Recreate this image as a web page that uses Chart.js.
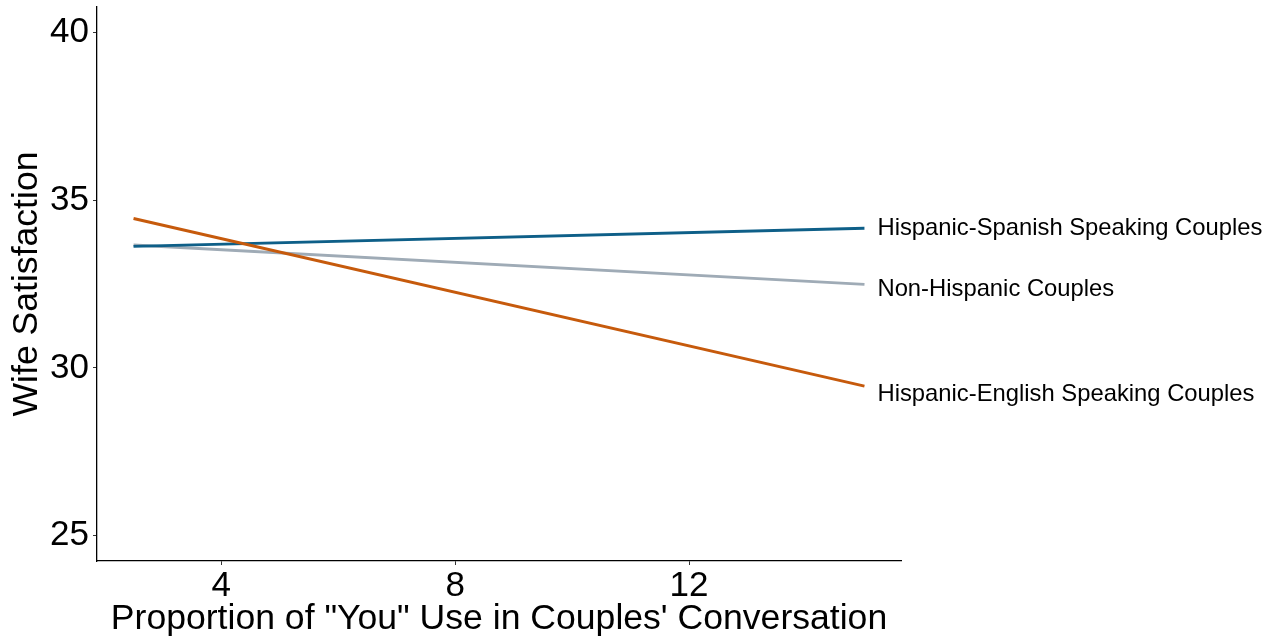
<!DOCTYPE html>
<html>
<head>
<meta charset="utf-8">
<script src="https://cdn.jsdelivr.net/npm/chart.js@4"></script>
<style>
  html, body { margin: 0; padding: 0; background: #ffffff; }
  #wrap { width: 1279px; height: 643px; }
</style>
</head>
<body>
<div id="wrap"><canvas id="c" width="1279" height="643"></canvas></div>
<script>
// Predicted wife satisfaction across the range of "you" use
const xRange = [2.5, 15];
const seriesNames = [
  'Hispanic-Spanish Speaking Couples',
  'Non-Hispanic Couples',
  'Hispanic-English Speaking Couples'
];
const spanishValues = [33.62, 34.16];
const nonHispanicValues = [33.66, 32.49];
const englishValues = [34.45, 29.46];
const xTicks = [4, 8, 12];
const yTicks = [25, 30, 35, 40];

const FONT = '"Liberation Sans", Arial, Helvetica, sans-serif';

function toPoints(vals) {
  return vals.map((v, i) => ({ x: xRange[i], y: v }));
}

// Series name written just past the end of each line
const endLabels = {
  id: 'endLabels',
  afterDatasetsDraw(chart) {
    const ctx = chart.ctx;
    ctx.save();
    ctx.font = '23.8px ' + FONT;
    ctx.fillStyle = '#000000';
    ctx.textAlign = 'left';
    ctx.textBaseline = 'middle';
    chart.data.datasets.forEach((ds, i) => {
      const meta = chart.getDatasetMeta(i);
      const last = meta.data[meta.data.length - 1];
      ctx.fillText(ds.label, last.x + 13, last.y + ds.labelNudge);
    });
    ctx.restore();
  }
};

new Chart(document.getElementById('c'), {
  type: 'line',
  data: {
    datasets: [
      {
        label: seriesNames[0],
        data: toPoints(spanishValues),
        borderColor: '#0e5f88',
        borderWidth: 2.9,
        pointRadius: 0,
        order: 2,
        labelNudge: 0
      },
      {
        label: seriesNames[1],
        data: toPoints(nonHispanicValues),
        borderColor: '#9fabb6',
        borderWidth: 2.9,
        pointRadius: 0,
        order: 3,
        labelNudge: 5
      },
      {
        label: seriesNames[2],
        data: toPoints(englishValues),
        borderColor: '#c65a0c',
        borderWidth: 2.9,
        pointRadius: 0,
        order: 1,
        labelNudge: 8
      }
    ]
  },
  options: {
    responsive: false,
    animation: false,
    layout: { padding: { top: 7, right: 378, bottom: 0, left: 0 } },
    plugins: {
      legend: { display: false },
      tooltip: { enabled: false }
    },
    scales: {
      x: {
        type: 'linear',
        min: 1.875,
        max: 15.625,
        afterBuildTicks(scale) { scale.ticks = xTicks.map(v => ({ value: v })); },
        afterFit(scale) { scale.height = 82; scale.paddingLeft = 0; scale.paddingRight = 0; },
        grid: { drawOnChartArea: false, drawTicks: true, tickLength: 4, tickWidth: 1, color: '#333333' },
        border: { display: true, color: '#000000', width: 1.3 },
        ticks: {
          color: '#000000',
          padding: 0,
          maxRotation: 0,
          font: { family: FONT, size: 35 }
        },
        title: {
          display: true,
          text: 'Proportion of "You" Use in Couples\' Conversation',
          color: '#000000',
          padding: { top: 0, bottom: 2 },
          font: { family: FONT, size: 35.6 }
        }
      },
      y: {
        type: 'linear',
        min: 24.25,
        max: 40.75,
        afterBuildTicks(scale) { scale.ticks = yTicks.map(v => ({ value: v })); },
        afterFit(scale) { scale.width = 97; scale.paddingTop = 0; scale.paddingBottom = 0; },
        grid: { drawOnChartArea: false, drawTicks: true, tickLength: 4, tickWidth: 1, color: '#333333' },
        border: { display: true, color: '#000000', width: 1.3 },
        ticks: {
          color: '#000000',
          padding: 4,
          font: { family: FONT, size: 35 }
        },
        title: {
          display: true,
          text: 'Wife Satisfaction',
          color: '#000000',
          padding: { top: 6, bottom: 0 },
          font: { family: FONT, size: 35.6 }
        }
      }
    }
  },
  plugins: [endLabels]
});
</script>
</body>
</html>
